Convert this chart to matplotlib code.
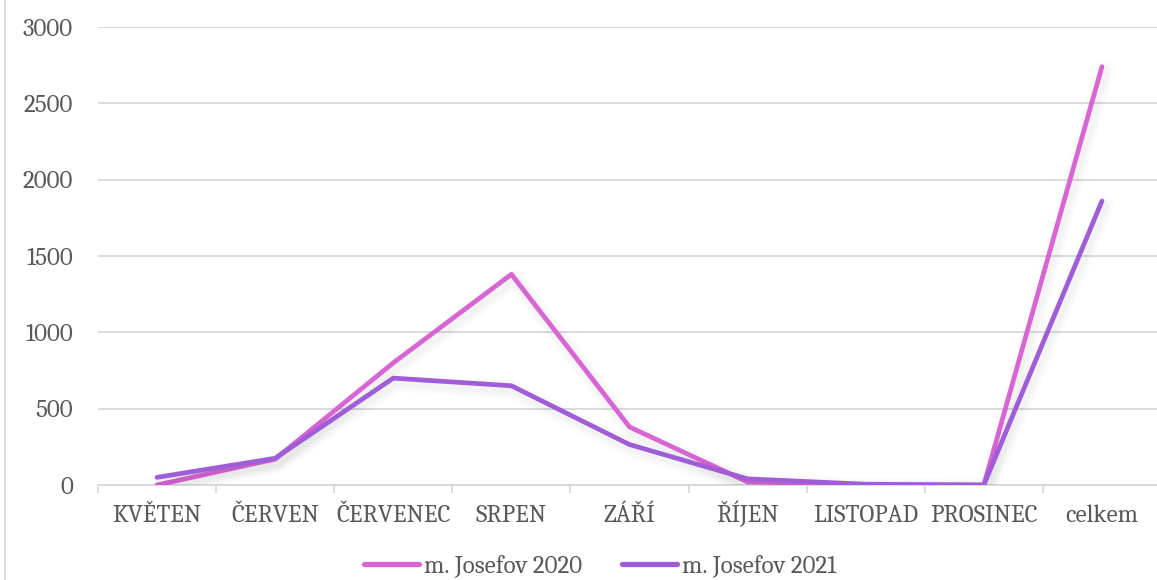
import matplotlib
matplotlib.use("Agg")
import matplotlib.pyplot as plt
import matplotlib.patheffects as pe
from matplotlib.lines import Line2D
import numpy as np

categories = ["KVĚTEN", "ČERVEN", "ČERVENEC", "SRPEN", "ZÁŘÍ", "ŘÍJEN", "LISTOPAD", "PROSINEC", "celkem"]
josefov_2020 = [0, 170, 800, 1380, 380, 20, 0, 0, 2740]
josefov_2021 = [50, 175, 700, 650, 265, 40, 5, 0, 1860]
series_names = ["m. Josefov 2020", "m. Josefov 2021"]
y_ticks = [0, 500, 1000, 1500, 2000, 2500, 3000]

plt.rcParams['font.family'] = ['Caladea', 'DejaVu Serif']
FS = 18
fig = plt.figure(figsize=(11.57, 5.8), dpi=100)
ax = fig.add_axes([98/1157, 1 - 485/580, 1063/1157, (485 - 27)/580])

x = np.arange(len(categories))
colors = ["#D865D4", "#A05DD8"]
shadow = [pe.SimpleLineShadow(offset=(2, -3), shadow_color="#000000", alpha=0.012, linewidth=w)
          for w in (14, 11, 8, 6)] + [pe.Normal()]
for vals, col, name in zip([josefov_2020, josefov_2021], colors, series_names):
    ax.plot(x, vals, color=col, lw=3.4, solid_capstyle="round", solid_joinstyle="round",
            label=name, path_effects=shadow, zorder=3)

ax.set_xlim(-0.5, len(categories) - 0.5)
ax.set_ylim(0, 3000)
ax.set_yticks(y_ticks)
ax.set_yticklabels([str(v) for v in y_ticks])
ax.grid(axis="y", color="#D9D9D9", lw=1.3, zorder=0)
ax.set_axisbelow(True)
for s in ["top", "right", "left"]:
    ax.spines[s].set_visible(False)
ax.spines["bottom"].set_color("#D9D9D9")
ax.spines["bottom"].set_linewidth(1.3)

ax.set_xticks(x)
ax.set_xticklabels(categories)
ax.set_xticks(np.arange(-0.5, len(categories) + 0.5, 1), minor=True)
ax.tick_params(axis="x", which="major", length=0, pad=26.5, labelsize=FS, labelcolor="#595959")
ax.tick_params(axis="x", which="minor", length=6, width=1.3, color="#D9D9D9")
ax.tick_params(axis="y", length=0, pad=18, labelsize=FS, labelcolor="#595959")
for lbl in ax.get_xticklabels():
    lbl.set_verticalalignment("baseline")
for lbl in ax.get_yticklabels():
    lbl.set_verticalalignment("center_baseline")

leg = fig.legend(*ax.get_legend_handles_labels(), loc="center", bbox_to_anchor=(600/1157, 1 - 566/580),
                 ncol=2, frameon=False, fontsize=FS, handlelength=2.2, columnspacing=1.6,
                 handletextpad=0.2, borderpad=0, borderaxespad=0)
for t in leg.get_texts():
    t.set_color("#595959")
for h in leg.legend_handles:
    h.set_linewidth(3.8)
    h.set_path_effects([])

fig.add_artist(Line2D([5/1157, 5/1157], [0, 1], color="#D9D9D9", lw=1.3, transform=fig.transFigure))

fig.savefig("out.png", dpi=100, facecolor="white")
